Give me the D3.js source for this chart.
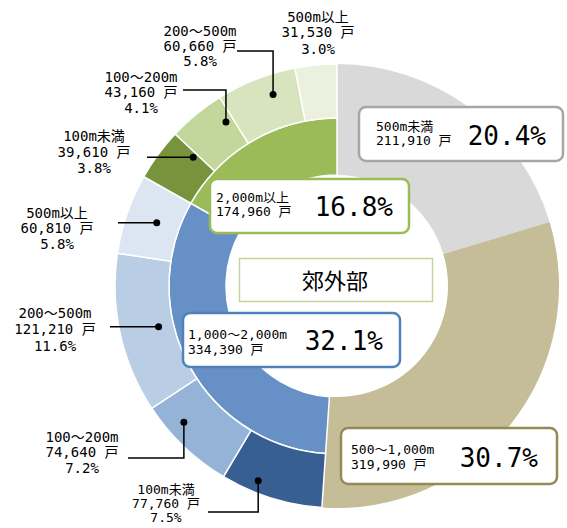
<!DOCTYPE html>
<html><head><meta charset="utf-8">
<script src="https://cdn.jsdelivr.net/npm/d3@7"></script>
<style>
html,body{margin:0;padding:0;background:#fff;}
text{font-family:"DejaVu Sans Mono","Noto Sans CJK JP",sans-serif;fill:#000;}
text.cjk{font-family:"Noto Sans CJK JP",sans-serif;}
</style></head>
<body><svg id="chart" width="567" height="528"></svg>
<script>
// ---- data ----
const centerTitle = "郊外部";
const mainCats = ["500m未満", "500〜1,000m", "1,000〜2,000m", "2,000m以上"];
const mainValues = [211910, 319990, 334390, 174960];
const mainPcts = ["20.4%", "30.7%", "32.1%", "16.8%"];
const subCats = ["100m未満", "100〜200m", "200〜500m", "500m以上"];
const blueValues = [77760, 74640, 121210, 60810];
const bluePcts = ["7.5%", "7.2%", "11.6%", "5.8%"];
const greenValues = [39610, 43160, 60660, 31530];
const greenPcts = ["3.8%", "4.1%", "5.8%", "3.0%"];

// ---- styles / layout ----
const cx = 337, cy = 286;
const rHole = 111, rMid = 168, rOuter = 222;
const mainColors = ["#d9d9d9", "#c4bd97", "#6791c6", "#9bbb59"];
const mainBorders = ["#a6a6a6", "#948a54", "#4f81bd", "#9bbb59"];
const blueColors = ["#385f92", "#95b3d7", "#b9cde5", "#dce6f2"];
const greenColors = ["#77933c", "#c3d69b", "#d7e4bd", "#ebf1de"];

const fmt = d3.format(",");
const svg = d3.select("#chart");
const g = svg.append("g").attr("transform", `translate(${cx},${cy})`);

const total = d3.sum(mainValues);
const angle = d3.scaleLinear().domain([0, total]).range([0, 2 * Math.PI]);
const cum = d3.cumsum(mainValues);
const mainArcs = mainValues.map((v, i) => ({
  i, start: angle(cum[i] - v), end: angle(cum[i])
}));

const arc = d3.arc();
// main segments: gray/tan span full ring, blue/green only inner ring
g.selectAll("path.main").data(mainArcs).join("path")
  .attr("class", "main")
  .attr("d", d => arc({innerRadius: rHole, outerRadius: d.i < 2 ? rOuter : rMid, startAngle: d.start, endAngle: d.end}))
  .attr("fill", d => mainColors[d.i])
  .attr("stroke", d => d.i < 2 ? "none" : "#fff")
  .attr("stroke-width", 1.5);

function subArcs(values, parent) {
  const sc = d3.scaleLinear().domain([0, d3.sum(values)]).range([parent.start, parent.end]);
  const c = d3.cumsum(values);
  return values.map((v, i) => ({i, start: sc(c[i] - v), end: sc(c[i])}));
}
const blueSubs = subArcs(blueValues, mainArcs[2]);
const greenSubs = subArcs(greenValues, mainArcs[3]);

function drawSubs(subs, colors, cls) {
  g.selectAll("path." + cls).data(subs).join("path")
    .attr("class", cls)
    .attr("d", d => arc({innerRadius: rMid, outerRadius: rOuter, startAngle: d.start, endAngle: d.end}))
    .attr("fill", d => colors[d.i])
    .attr("stroke", "#fff").attr("stroke-width", 1.5);
}
drawSubs(blueSubs, blueColors, "bsub");
drawSubs(greenSubs, greenColors, "gsub");

// ---- center title ----
svg.append("rect").attr("x", 239.5).attr("y", 258.5).attr("width", 193).attr("height", 43)
  .attr("fill", "#fff").attr("stroke", "#c3d69b").attr("stroke-width", 1.5);
svg.append("text").attr("class", "cjk").attr("x", 335).attr("y", 289).attr("text-anchor", "middle")
  .attr("font-size", 22).text(centerTitle);

// ---- main category boxes ----
const boxLayout = [
  {x: 359, y: 107, w: 204, h: 54, tx: 376, ty: [131, 145], px: 546, py: 145},
  {x: 341, y: 428, w: 216, h: 56, tx: 351, ty: [454, 469], px: 538, py: 467},
  {x: 183, y: 313, w: 217, h: 54, tx: 188, ty: [339, 354], px: 383, py: 350},
  {x: 210, y: 179, w: 199, h: 54, tx: 216, ty: [202, 216], px: 393, py: 216}
];
mainCats.forEach((c, i) => {
  const L = boxLayout[i];
  svg.append("rect").attr("x", L.x).attr("y", L.y).attr("width", L.w).attr("height", L.h)
    .attr("rx", 7).attr("fill", "#fff").attr("stroke", mainBorders[i]).attr("stroke-width", 2.5);
  svg.append("text").attr("x", L.tx).attr("y", L.ty[0]).attr("font-size", 13).text(c);
  svg.append("text").attr("x", L.tx).attr("y", L.ty[1]).attr("font-size", 13).text(fmt(mainValues[i]) + " 戸");
  svg.append("text").attr("x", L.px).attr("y", L.py).attr("text-anchor", "end")
    .attr("font-size", 26).text(mainPcts[i]);
});

// ---- outer labels with leaders ----
function polar(a, r) { return [cx + r * Math.sin(a), cy - r * Math.cos(a)]; }
const blueLabelLayout = [
  {lx: 166, ly: [494, 508, 522], fs: 13, t: 0.675, r: 210, lead: {x0: 208, y: 512, elbow: true}},
  {lx: 82, ly: [442, 457, 473], t: 0.68, r: 205, lead: {x0: 128, y: 458, elbow: true}},
  {lx: 55, ly: [318, 334, 351], t: 0.49, r: 183, lead: {x0: 110, elbow: false}},
  {lx: 57, ly: [218, 233, 249], t: 0.515, r: 191, lead: {x0: 118, elbow: false}}
];
const greenLabelLayout = [
  {lx: 94, ly: [141, 157, 173], t: 0.9, r: 193, lead: {x0: 147, elbow: false}},
  {lx: 141, ly: [82, 97, 113], t: 0.85, r: 198, lead: {x0: 183, y: 90, elbow: true}},
  {lx: 200, ly: [36, 51, 66], t: 0.64, r: 202, lead: {x0: 237, y: 51, elbow: true}},
  {lx: 318, ly: [22, 37, 54], lead: null}
];
function drawLabels(subs, values, pcts, layout) {
  subs.forEach((s, i) => {
    const L = layout[i];
    const lines = [subCats[i], fmt(values[i]) + " 戸", pcts[i]];
    lines.forEach((t, k) => svg.append("text").attr("x", L.lx).attr("y", L.ly[k])
      .attr("text-anchor", "middle").attr("font-size", L.fs || 14).text(t));
    if (L.lead) {
      const [dx, dy] = polar(s.start + L.t * (s.end - s.start), L.r);
      const pts = L.lead.elbow
        ? [[L.lead.x0, L.lead.y], [dx, L.lead.y], [dx, dy]]
        : [[L.lead.x0, dy], [dx, dy]];
      svg.append("path").attr("d", d3.line()(pts)).attr("fill", "none")
        .attr("stroke", "#000").attr("stroke-width", 1.5);
      svg.append("circle").attr("cx", dx).attr("cy", dy).attr("r", 3.5).attr("fill", "#000");
    }
  });
}
drawLabels(blueSubs, blueValues, bluePcts, blueLabelLayout);
drawLabels(greenSubs, greenValues, greenPcts, greenLabelLayout);
</script></body></html>
